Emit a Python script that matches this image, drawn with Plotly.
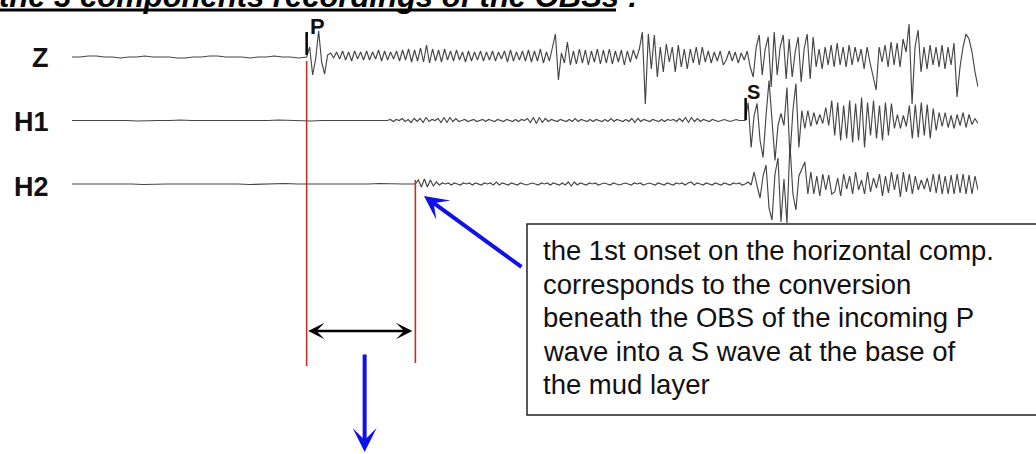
import numpy as np
import plotly.graph_objects as go

FIG_W, FIG_H = 1036, 454

# ---------------- record time axis (s) and phase picks ----------------
T_START, T_END = 0.0, 100.0
P_TIME = 25.9          # P arrival on Z
H1_NOISE_TIME = 34.8   # start of low-level noise on H1
PS_TIME = 37.9         # 1st onset on horizontal comp. (P-to-S conversion)
S_TIME = 74.3          # S arrival

CHANNELS = ["Z", "H1", "H2"]

# ---------------- amplitudes ----------------
z_pre = [0, 0, 1, 1, 0, 0, -1, 0, 0, 1, 0, 0, 0, -1, -1, 0, 0, 1, 1, 0,
         0, 0, -1, 0, 0, 1, 0, 0, -1, 0]
z_post = [
    0, 10, -18, -2, 26, -5, -17, 2, 4, -1,
    5, -2, 6, -3, 5, -4, 6, -2, 5, -3,
    6, -3, 5, -2, 7, -4, 6, -3, 5, -2,
    6, -4, 7, -3, 8, -5, 7, -4, 9, -5,
    12, -6, 8, -4, 7, -5, 8, -3, 6, -4,
    7, -3, 5, -5, 6, -4, 5, -3, 6, -4,
    5, -3, 6, -4, 5, -2, 6, -5, 7, -4,
    5, -3, 6, -4, 7, -5, 6, -4, 8, -6,
    5, -4, 8, 23, -23, 4, -6, 15, -8, 6,
    -7, 8, -6, 7, -8, 6, -5, 8, -7, 7,
    -6, 8, -7, 6, -5, 7, -8, 6, -5, 7,
    -2, 8, 25, -47, 23, -12, 22, -20, 10, -15,
    13, -5, 10, -15, 12, -10, 8, -12, 8, -6,
    10, -8, 10, -5, 6, -6, 5, -4, 6, -8,
    -3, 6, -4, 5, -6, 4, -3, 6, -10, -20,
    10, 22, -18, 8, 20, -30, 25, -18, 10, 22,
    -22, 18, -20, 5, 20, -25, 8, 23, -22, 20,
    -10, 8, -12, 10, -8, 12, -10, 14, -8, 10,
    -10, 12, -8, 10, -5, 8, -12, 10, -6, -20,
    -33, 10, -5, 12, -10, 15, -8, 14, -10, 18,
    5, 33, -47, 10, 27, -15, 10, -12, 12, -8,
    10, -10, 12, -12, 10, -8, 14, -40, -10, 10,
    23, 18, 5, -15, -30,
]

h1_pre = [0, 0, 0, 0.5, 0, 0, -0.5, 0, 0, 0, 0.5, 0, 0, 0, -0.5, 0, 0, 0,
          0, 0.5, 0, 0, -0.5, 0, 0, 0, 0.5, 0, 0, 0]
h1_mid = [
    0, 1, -1, 1, 0, 2, -1, 1, -2, 2,
    -1, 2, -2, 3, -1, 1, 0, 2, -2, 3,
    -2, 3, -1, 2, -1, 0, 1, -1, 0, 1,
    -1, 0, 1, -1, 1, 0, -1, 1, 0, -1,
    1, 0, -1, 1, -1, 1, 0, 2, -2, 3,
    -3, 3, -2, 2, -1, 1, 0, -1, 1, 0,
    -1, 1, -1, 2, -1, 1, 0, -1, 1, -1,
    1, 0, -1, 1, -1, 2, -1, 1, 0, -1,
    1, -1, 2, -2, 2, -1, 1, 0, -1, 1,
    0, -1, 1, -1, 1, 0, 1, -1, 2, -1,
    3, -2, 3, -1, 2, -1, 1, 0, -1, 1,
    0, -1, 0, 1, 0, -1, 0, 1, 0, 0,
    0,
]
h1_post = [
    0, 18, -27, 5, 17, -20, -37, 5, 40, 0,
    -40, -5, 7, -5, 33, -37, 10, 37, -27, 10,
    -8, 10, -6, 8, -4, 6, -3, 13, -5, 20,
    -15, 18, -20, 15, -18, 20, -22, 17, -20, 23,
    -27, 18, -15, 20, -18, 15, -20, 18, -15, 17,
    -8, 6, -8, 5, -6, 15, -18, 16, -17, 18,
    -15, 16, -18, 12, -10, 8, -6, 8, -7, 5,
    -8, 6, -5, 8, -7, 6, -4, 2, -3,
]

h2_pre = [0, 0, 0.5, 0, 0, 0, -0.5, 0, 0, 0, 0, 0.5, 0, 0, 0, -0.5, 0, 0,
          0.5, 0, 0, 0, 0, -0.5, 0, 0, 0.5, 0, 0, 0]
h2_mid = [
    0, 4, -3, 5, -3, 4, -2, 2, -1, 1,
    0, 1, -1, 1, 0, -1, 1, 0, 1, -1,
    1, 0, -1, 1, 0, 1, -1, 2, -1, 1,
    0, -1, 1, 0, -1, 1, 0, -1, 0, 1,
    0, -1, 1, 0, 1, -1, 1, 0, -1, 1,
    -1, 2, -2, 2, -1, 1, 0, -1, 1, 0,
    1, -1, 0, 1, 0, -1, 1, 0, -1, 0,
    1, 0, -1, 1, 0, 1, -1, 0, 1, 0,
    -1, 1, 0, -1, 1, 0, -1, 1, 0, 1,
    -1, 1, 2, -1, 1, 0, -1, 1, 0, -1,
    1, 0, -1, 1, 0, -1, 1, 0, 1, -1,
    0,
]
h2_post = [
    0, 2, -1, 12, -2, -14, 8, 19, -24, -36,
    10, 26, -38, 5, -39, 40, -10, -26, 8, 15,
    22, -10, 12, -10, 8, -12, 10, -6, 9, -10,
    -8, 6, -12, 10, -5, 8, -10, 12, -6, 4,
    -10, 12, -8, 6, -4, 10, -12, 8, -9, 12,
    -6, 10, -13, 12, -8, 10, -10, 8, -6, 4,
    -5, 6, -8, 10, -9, 10, -10, 8, -10, 9,
    -10, 10, -9, 10, -10, 9, -10, 8, -6,
]

TITLE = "the 3 components recordings of the OBSs"
BOX_LINES = [
    "the 1st onset on the horizontal comp.",
    "corresponds to the conversion",
    "beneath the OBS of the incoming P",
    "wave into a S wave at the base of",
    "the mud layer",
]

# ---------------- layout constants ----------------
TRACE_X0, TRACE_X1 = 72, 978          # pixel extent of the record
OFFSETS = {"Z": -57.0, "H1": -120.5, "H2": -184.0}
FONT = "Liberation Sans, Arial, sans-serif"
TRACE_COLOR = "#454545"
RED = "#c0302e"
BLUE = "#1010e8"


def px_x(p):
    return p / FIG_W


def px_y(p):
    return 1 - p / FIG_H


def seg(values, t0, t1):
    return np.linspace(t0, t1, len(values)), np.asarray(values, dtype=float)


segments = {
    "Z": [seg(z_pre, T_START, P_TIME), seg(z_post, P_TIME, T_END)],
    "H1": [seg(h1_pre, T_START, H1_NOISE_TIME), seg(h1_mid, H1_NOISE_TIME, S_TIME),
           seg(h1_post, S_TIME, T_END)],
    "H2": [seg(h2_pre, T_START, PS_TIME), seg(h2_mid, PS_TIME, S_TIME),
           seg(h2_post, S_TIME, T_END)],
}

fig = go.Figure()
for ch in CHANNELS:
    t = np.concatenate([s[0] for s in segments[ch]])
    a = np.concatenate([s[1] for s in segments[ch]])
    fig.add_trace(go.Scatter(x=t, y=a + OFFSETS[ch], mode="lines",
                             line=dict(color=TRACE_COLOR, width=1.15),
                             hoverinfo="skip", showlegend=False))

BOX_L, BOX_R, BOX_T, BOX_B = px_x(527), 1.0, -224, -415
shapes = [
    # red onset lines
    dict(type="line", xref="x", yref="y", x0=P_TIME, x1=P_TIME, y0=-61, y1=-366,
         line=dict(color=RED, width=1.6)),
    dict(type="line", xref="x", yref="y", x0=PS_TIME, x1=PS_TIME, y0=-180, y1=-363,
         line=dict(color=RED, width=1.6)),
    # phase pick bars
    dict(type="line", xref="x", yref="y", x0=P_TIME, x1=P_TIME, y0=-32, y1=-55,
         line=dict(color="black", width=2.5)),
    dict(type="line", xref="x", yref="y", x0=S_TIME + 0.05, x1=S_TIME + 0.05, y0=-98, y1=-120,
         line=dict(color="black", width=2.5)),
    # title underline
    dict(type="line", xref="paper", yref="paper", x0=px_x(0), x1=px_x(616),
         y0=px_y(10), y1=px_y(10), line=dict(color="black", width=3)),
    # explanation box: white fill, then an open frame running to the right edge
    dict(type="rect", xref="paper", yref="y", x0=BOX_L, x1=BOX_R, y0=BOX_T, y1=BOX_B,
         line=dict(width=0), fillcolor="white", layer="above"),
    dict(type="path", xref="paper", yref="y",
         path=f"M {BOX_R},{BOX_T} L {BOX_L},{BOX_T} L {BOX_L},{BOX_B} L {BOX_R},{BOX_B}",
         line=dict(color="#222", width=1.5), layer="above"),
]

ann = []
# cut-off title (only its lower part is inside the picture, as in the original slide)
ann.append(dict(xref="paper", yref="paper", x=px_x(-3), y=px_y(-3.5), xanchor="left",
                yanchor="middle", text="<b><i>" + TITLE + " :</i></b>", showarrow=False,
                font=dict(family=FONT, size=31, color="black")))
# channel labels
for ch, yc in zip(CHANNELS, [-58.3, -122.4, -186.7]):
    ann.append(dict(xref="paper", yref="y", x=px_x(51), y=yc, xanchor="right", yanchor="middle",
                    text="<b>" + ch + "</b>", showarrow=False,
                    font=dict(family=FONT, size=27, color="#111")))
# phase labels
ann.append(dict(xref="x", yref="y", x=P_TIME, y=-26, xshift=11, xanchor="center", yanchor="middle",
                text="<b>P</b>", showarrow=False, font=dict(family=FONT, size=22, color="#111")))
ann.append(dict(xref="x", yref="y", x=S_TIME, y=-92, xshift=8, xanchor="center", yanchor="middle",
                text="<b>S</b>", showarrow=False, font=dict(family=FONT, size=20, color="#111")))
# box text
for i, line in enumerate(BOX_LINES):
    ann.append(dict(xref="paper", yref="y", x=px_x(541), y=-(250.5 + 33.5 * i),
                    xanchor="left", yanchor="middle", text=line, showarrow=False,
                    font=dict(family=FONT, size=27.5, color="#111")))
# double-headed delay arrow
ann.append(dict(xref="x", yref="y", axref="x", ayref="y", x=PS_TIME, y=-331, ax=P_TIME, ay=-331,
                text="", showarrow=True, arrowhead=3, startarrowhead=3, arrowside="end+start",
                arrowwidth=2.5, arrowsize=1.1, startarrowsize=1.1, standoff=3, startstandoff=0,
                arrowcolor="black"))
# blue arrow to the H2 onset
ann.append(dict(xref="x", yref="y", x=PS_TIME + 0.95, y=-196, ax=99, ay=72,
                text="", showarrow=True, arrowhead=3, arrowwidth=4, arrowsize=1,
                arrowcolor=BLUE))
# blue arrow down
ann.append(dict(xref="x", yref="y", x=32.3, y=-452, ax=0, ay=-99,
                text="", showarrow=True, arrowhead=3, arrowwidth=4, arrowsize=1,
                arrowcolor=BLUE))

fig.update_layout(
    width=FIG_W, height=FIG_H,
    margin=dict(l=0, r=0, t=0, b=0),
    paper_bgcolor="white", plot_bgcolor="white",
    showlegend=False,
    xaxis=dict(domain=[px_x(TRACE_X0), px_x(TRACE_X1)], range=[T_START, T_END],
               visible=False, fixedrange=True),
    yaxis=dict(domain=[0, 1], range=[-FIG_H, 0], visible=False, fixedrange=True),
    shapes=shapes,
    annotations=ann,
)

fig.write_html("out.html", config={"displayModeBar": False, "staticPlot": True},
               post_script="document.body.style.margin='0';document.body.style.overflow='hidden';")
